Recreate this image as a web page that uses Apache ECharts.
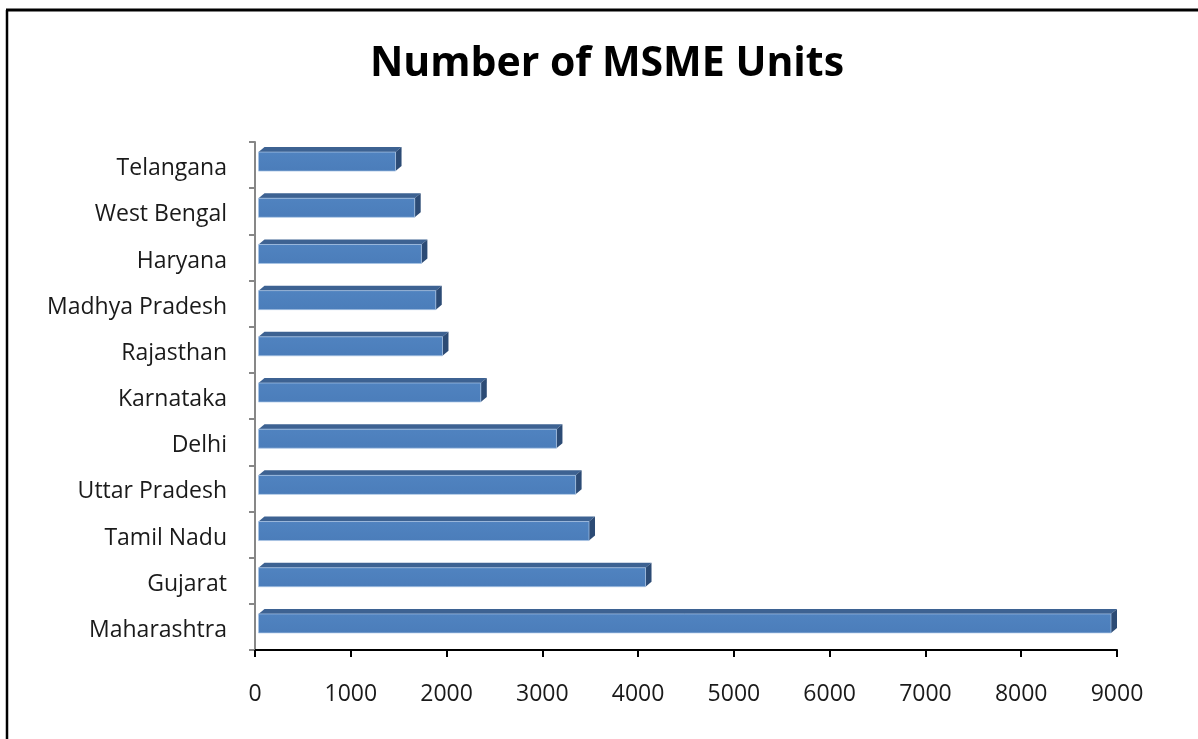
<!DOCTYPE html>
<html>
<head>
<meta charset="utf-8">
<title>Number of MSME Units</title>
<script src="https://cdn.jsdelivr.net/npm/echarts@6/dist/echarts.min.js"></script>
<style>
  html, body { margin: 0; padding: 0; background: #ffffff; }
  #chart { width: 1198px; height: 739px; }
</style>
</head>
<body>
<div id="chart"></div>
<script>
// States, listed bottom to top as they appear on the category axis
const states = [
  'Maharashtra', 'Gujarat', 'Tamil Nadu', 'Uttar Pradesh', 'Delhi',
  'Karnataka', 'Rajasthan', 'Madhya Pradesh', 'Haryana', 'West Bengal', 'Telangana'
];
// Number of MSME units per state
const units = [9000, 4140, 3550, 3410, 3210, 2420, 2020, 1950, 1800, 1730, 1530];
// Value axis ticks
const valueTicks = [0, 1000, 2000, 3000, 4000, 5000, 6000, 7000, 8000, 9000];

const FONT = '"Open Sans", "DejaVu Sans", sans-serif';

// Bevelled "3D" bar: a front face, a darker top face and a darker end face
function renderBar(params, api) {
  const value = api.value(0);
  const cat = api.value(1);
  const start = api.coord([0, cat]);
  const end = api.coord([value, cat]);
  const yc = start[1];
  const dx = 6, dy = 5;
  const fl = start[0] + 3.5;
  const fr = end[0] - dx;
  const ft = yc - 13;
  const fb = yc + 6;
  return {
    type: 'group',
    children: [
      {
        type: 'polygon',
        shape: { points: [[fl, ft], [fl + dx, ft - dy], [fr + dx, ft - dy], [fr, ft]] },
        style: { fill: '#3d6292' }
      },
      {
        type: 'polygon',
        shape: { points: [[fr, ft], [fr + dx, ft - dy], [fr + dx, fb - dy], [fr, fb]] },
        style: { fill: '#2c4b75' }
      },
      {
        type: 'rect',
        shape: { x: fl, y: ft, width: fr - fl, height: fb - ft },
        style: {
          fill: new echarts.graphic.LinearGradient(0, 0, 0, 1, [
            { offset: 0, color: '#5083c0' },
            { offset: 1, color: '#4b7dba' }
          ]),
          stroke: 'rgba(170,196,230,0.7)',
          lineWidth: 1
        }
      }
    ]
  };
}

const chart = echarts.init(document.getElementById('chart'), null, { renderer: 'canvas' });

chart.setOption({
  backgroundColor: '#ffffff',
  animation: false,
  grid: { left: 255, top: 142, width: 862, height: 508, containLabel: false },
  xAxis: {
    type: 'value',
    min: valueTicks[0],
    max: valueTicks[valueTicks.length - 1],
    interval: valueTicks[1] - valueTicks[0],
    axisLine: { show: true, lineStyle: { color: '#000000', width: 2 } },
    axisTick: { show: true, length: 7, lineStyle: { color: '#000000', width: 2 } },
    axisLabel: {
      color: '#1a1a1a', fontFamily: FONT, fontSize: 23, margin: 33,
      formatter: (v) => String(v)
    },
    splitLine: { show: false }
  },
  yAxis: {
    type: 'category',
    data: states,
    axisLine: { show: true, lineStyle: { color: '#878787', width: 2 } },
    axisTick: { show: true, length: 6, lineStyle: { color: '#878787', width: 2 } },
    axisLabel: {
      color: '#1a1a1a', fontFamily: FONT, fontSize: 23, margin: 28,
      formatter: (name) => '{s|' + name + '}',
      rich: {
        s: { fontFamily: FONT, fontSize: 23, color: '#1a1a1a', padding: [7, 0, 0, 0] }
      }
    },
    splitLine: { show: false }
  },
  series: [{
    type: 'custom',
    name: 'Number of MSME Units',
    renderItem: renderBar,
    encode: { x: 0, y: 1 },
    data: units.map((v, i) => [v, i]),
    clip: false
  }],
  graphic: [
    {
      type: 'text',
      style: {
        text: 'Number of MSME Units',
        x: 607, y: 64,
        textAlign: 'center', textVerticalAlign: 'middle',
        fontFamily: FONT, fontSize: 41, fontWeight: 'bold', fill: '#000000'
      }
    },
    { type: 'line', shape: { x1: 6, y1: 10, x2: 1198, y2: 10 }, style: { stroke: '#000000', lineWidth: 3 } },
    { type: 'line', shape: { x1: 7, y1: 10, x2: 7, y2: 739 }, style: { stroke: '#000000', lineWidth: 2.5 } }
  ]
});
</script>
</body>
</html>
